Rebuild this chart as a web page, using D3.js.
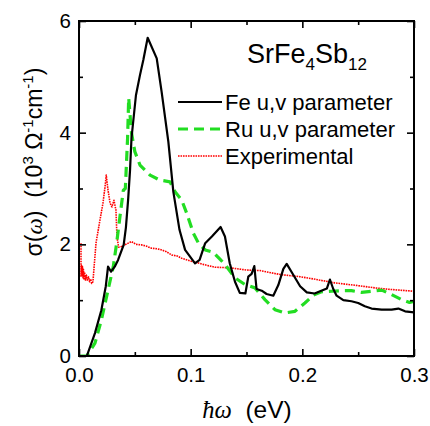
<!DOCTYPE html>
<html>
<head>
<meta charset="utf-8">
<script src="https://cdn.jsdelivr.net/npm/d3@7"></script>
<style>
  html, body { margin: 0; padding: 0; background: #fff; }
  svg { display: block; }
  text { font-family: "Liberation Sans", Arial, sans-serif; fill: #000; }
</style>
</head>
<body>
<svg id="chart" width="430" height="426"></svg>
<script>
// Optical conductivity of SrFe4Sb12: photon energy (eV) vs sigma (10^3 Ohm^-1 cm^-1)

// Calculated, Fe u,v parameters
const feEnergy = [0.007, 0.0143, 0.020, 0.024, 0.026, 0.0287, 0.032, 0.035, 0.040, 0.042, 0.044, 0.0457, 0.047, 0.051, 0.0546, 0.0576, 0.0615, 0.0696, 0.074, 0.080, 0.0845, 0.090, 0.095, 0.1039, 0.108, 0.113, 0.119, 0.1268, 0.1307, 0.135, 0.1397, 0.144, 0.149, 0.1516, 0.1546, 0.157, 0.159, 0.1636, 0.168, 0.174, 0.1785, 0.183, 0.186, 0.192, 0.198, 0.204, 0.211, 0.217, 0.222, 0.2247, 0.2277, 0.2307, 0.2367, 0.244, 0.250, 0.256, 0.262, 0.271, 0.280, 0.286, 0.292, 0.300];
const feSigma  = [0.0, 0.41, 0.82, 1.25, 1.60, 1.51, 1.60, 1.72, 1.99, 2.30, 2.80, 3.33, 3.90, 4.67, 5.03, 5.30, 5.70, 5.33, 4.73, 3.84, 2.94, 2.26, 1.90, 1.66, 1.72, 2.02, 2.14, 2.31, 2.14, 1.66, 1.33, 1.13, 1.12, 1.42, 1.47, 1.61, 1.20, 1.17, 1.11, 1.08, 1.27, 1.56, 1.65, 1.45, 1.25, 1.14, 1.12, 1.17, 1.21, 1.37, 1.20, 1.08, 1.00, 0.98, 0.95, 0.89, 0.85, 0.83, 0.83, 0.85, 0.80, 0.78];

// Calculated, Ru u,v parameters
const ruEnergy = [0.001, 0.007, 0.0143, 0.020, 0.026, 0.0307, 0.0337, 0.0367, 0.0397, 0.0415, 0.0435, 0.0445, 0.047, 0.050, 0.0546, 0.0636, 0.0725, 0.0815, 0.086, 0.092, 0.0964, 0.1024, 0.107, 0.113, 0.120, 0.126, 0.1307, 0.1397, 0.1486, 0.1576, 0.1665, 0.1755, 0.1844, 0.1934, 0.2023, 0.210, 0.217, 0.226, 0.235, 0.244, 0.253, 0.262, 0.271, 0.280, 0.289, 0.296, 0.300];
const ruSigma  = [0.0, 0.0, 0.23, 0.64, 1.18, 1.60, 2.02, 2.50, 2.97, 3.00, 3.90, 4.62, 4.00, 3.66, 3.42, 3.24, 3.15, 3.12, 2.94, 2.79, 2.56, 2.20, 2.02, 1.90, 1.86, 1.74, 1.64, 1.40, 1.28, 1.22, 1.01, 0.83, 0.77, 0.80, 0.95, 1.09, 1.15, 1.16, 1.17, 1.17, 1.14, 1.16, 1.18, 1.10, 1.01, 0.96, 0.98];

// Measured spectrum
const expEnergy = [0.0018, 0.0018, 0.0022, 0.0027, 0.0031, 0.0036, 0.0040, 0.0045, 0.0050, 0.0058, 0.0066, 0.0075, 0.0085, 0.0095, 0.0105, 0.0113, 0.0125, 0.0152, 0.0188, 0.0215, 0.0233, 0.0244, 0.0260, 0.0278, 0.0295, 0.0313, 0.0331, 0.0340, 0.0355, 0.038, 0.042, 0.047, 0.051, 0.056, 0.060, 0.065, 0.070, 0.074, 0.078, 0.083, 0.088, 0.092, 0.100, 0.108, 0.115, 0.122, 0.135, 0.150, 0.162, 0.180, 0.198, 0.210, 0.229, 0.250, 0.265, 0.280, 0.300];
const expSigma  = [2.02, 1.43, 1.62, 1.45, 1.60, 1.40, 1.55, 1.38, 1.50, 1.36, 1.45, 1.36, 1.42, 1.33, 1.38, 1.30, 1.33, 2.02, 2.44, 2.74, 3.03, 3.24, 2.97, 2.74, 2.67, 2.79, 2.61, 2.13, 1.95, 1.96, 2.00, 2.05, 2.00, 1.99, 1.97, 1.93, 1.92, 1.90, 1.87, 1.81, 1.79, 1.75, 1.70, 1.66, 1.62, 1.59, 1.58, 1.54, 1.53, 1.46, 1.42, 1.38, 1.31, 1.26, 1.22, 1.19, 1.16];

const xMajorTicks = [0, 0.1, 0.2, 0.3];
const xMinorTicks = [0.05, 0.15, 0.25];
const yMajorTicks = [0, 2, 4, 6];
const yMinorTicks = [1, 3, 5];

const legendLabels = ["Fe u,v parameter", "Ru u,v parameter", "Experimental"];

const svg = d3.select("#chart");
const plot = { left: 79, top: 21, right: 414, bottom: 356 };

const x = d3.scaleLinear().domain([0, 0.3]).range([plot.left, plot.right]);
const y = d3.scaleLinear().domain([0, 6]).range([plot.bottom, plot.top]);

const series = [
  { e: feEnergy, s: feSigma, color: "#000", width: 2.2, dash: null },
  { e: ruEnergy, s: ruSigma, color: "#22dd22", width: 3.2, dash: "10,6" },
  { e: expEnergy, s: expSigma, color: "#ff0000", width: 1.6, dash: "1.6,0.9" }
];

// clip curves to the frame
svg.append("clipPath").attr("id", "frame")
  .append("rect")
  .attr("x", plot.left).attr("y", plot.top)
  .attr("width", plot.right - plot.left).attr("height", plot.bottom - plot.top);

const line = d3.line().x(d => x(d[0])).y(d => y(d[1]));

const curves = svg.append("g").attr("clip-path", "url(#frame)");
// draw experimental first, then Ru, then Fe on top
[2, 1, 0].forEach(i => {
  const sr = series[i];
  const pts = sr.e.map((v, k) => [v, sr.s[k]]);
  curves.append("path")
    .attr("d", line(pts))
    .attr("fill", "none")
    .attr("stroke", sr.color)
    .attr("stroke-width", sr.width)
    .attr("stroke-dasharray", sr.dash)
    .attr("stroke-linejoin", "round");
});

// axes: inward ticks on all four sides
const fmtX = d3.format(".1f");
const axisFont = 20.5;

function styleAxis(g) {
  g.select(".domain").remove();
  g.selectAll(".tick line").attr("stroke", "#000").attr("stroke-width", 1.6);
  g.selectAll("text").attr("font-size", axisFont).attr("font-family", '"Liberation Sans", Arial, sans-serif').attr("fill", "#000");
}

svg.append("g").attr("transform", `translate(0,${plot.bottom})`)
  .call(d3.axisBottom(x).tickValues(xMajorTicks).tickFormat(fmtX).tickSize(-7).tickPadding(11))
  .call(styleAxis);
svg.append("g").attr("transform", `translate(0,${plot.bottom})`)
  .call(d3.axisBottom(x).tickValues(xMinorTicks).tickFormat("").tickSize(-4))
  .call(styleAxis);
svg.append("g").attr("transform", `translate(0,${plot.top})`)
  .call(d3.axisTop(x).tickValues(xMajorTicks).tickFormat("").tickSize(-7))
  .call(styleAxis);
svg.append("g").attr("transform", `translate(0,${plot.top})`)
  .call(d3.axisTop(x).tickValues(xMinorTicks).tickFormat("").tickSize(-4))
  .call(styleAxis);

svg.append("g").attr("transform", `translate(${plot.left},0)`)
  .call(d3.axisLeft(y).tickValues(yMajorTicks).tickFormat(d3.format("d")).tickSize(-7).tickPadding(8))
  .call(styleAxis);
svg.append("g").attr("transform", `translate(${plot.left},0)`)
  .call(d3.axisLeft(y).tickValues(yMinorTicks).tickFormat("").tickSize(-4))
  .call(styleAxis);
svg.append("g").attr("transform", `translate(${plot.right},0)`)
  .call(d3.axisRight(y).tickValues(yMajorTicks).tickFormat("").tickSize(-7))
  .call(styleAxis);
svg.append("g").attr("transform", `translate(${plot.right},0)`)
  .call(d3.axisRight(y).tickValues(yMinorTicks).tickFormat("").tickSize(-4))
  .call(styleAxis);

// frame
svg.append("rect")
  .attr("x", plot.left).attr("y", plot.top)
  .attr("width", plot.right - plot.left).attr("height", plot.bottom - plot.top)
  .attr("fill", "none").attr("stroke", "#000").attr("stroke-width", 2);

// compound title
const title = svg.append("text").attr("x", 247).attr("y", 63).attr("font-size", 27);
title.append("tspan").text("SrFe");
title.append("tspan").attr("font-size", 17).attr("dy", 7).text("4");
title.append("tspan").attr("dy", -7).text("Sb");
title.append("tspan").attr("font-size", 17).attr("dy", 7).text("12");

// legend
const legendRows = [102, 129, 156];
legendLabels.forEach((lab, i) => {
  const sr = series[i];
  svg.append("line")
    .attr("x1", 178).attr("x2", 222)
    .attr("y1", legendRows[i]).attr("y2", legendRows[i])
    .attr("stroke", sr.color).attr("stroke-width", sr.width)
    .attr("stroke-dasharray", sr.dash);
  svg.append("text")
    .attr("x", 225).attr("y", legendRows[i] + 8)
    .attr("font-size", 22)
    .text(lab);
});

// x-axis title
const xt = svg.append("text").attr("x", 247).attr("y", 418).attr("text-anchor", "middle").attr("font-size", 24.5);
xt.append("tspan").attr("font-family", '"Liberation Serif", "Times New Roman", serif').attr("font-style", "italic").text("ħω");
xt.append("tspan").text("\u00a0\u00a0(eV)");

// y-axis title
const yt = svg.append("text")
  .attr("transform", "translate(42,162) rotate(-90)")
  .attr("text-anchor", "middle").attr("font-size", 23);
yt.append("tspan").text("σ(");
yt.append("tspan").attr("font-family", '"Liberation Serif", "Times New Roman", serif').attr("font-style", "italic").text("ω");
yt.append("tspan").text(")\u00a0\u00a0(10");
yt.append("tspan").attr("font-size", 15).attr("dy", -9).text("3");
yt.append("tspan").attr("dy", 9).text("\u00a0Ω");
yt.append("tspan").attr("font-size", 15).attr("dy", -9).text("-1");
yt.append("tspan").attr("dy", 9).text("cm");
yt.append("tspan").attr("font-size", 15).attr("dy", -9).text("-1");
yt.append("tspan").attr("dy", 9).text(")");
</script>
</body>
</html>
